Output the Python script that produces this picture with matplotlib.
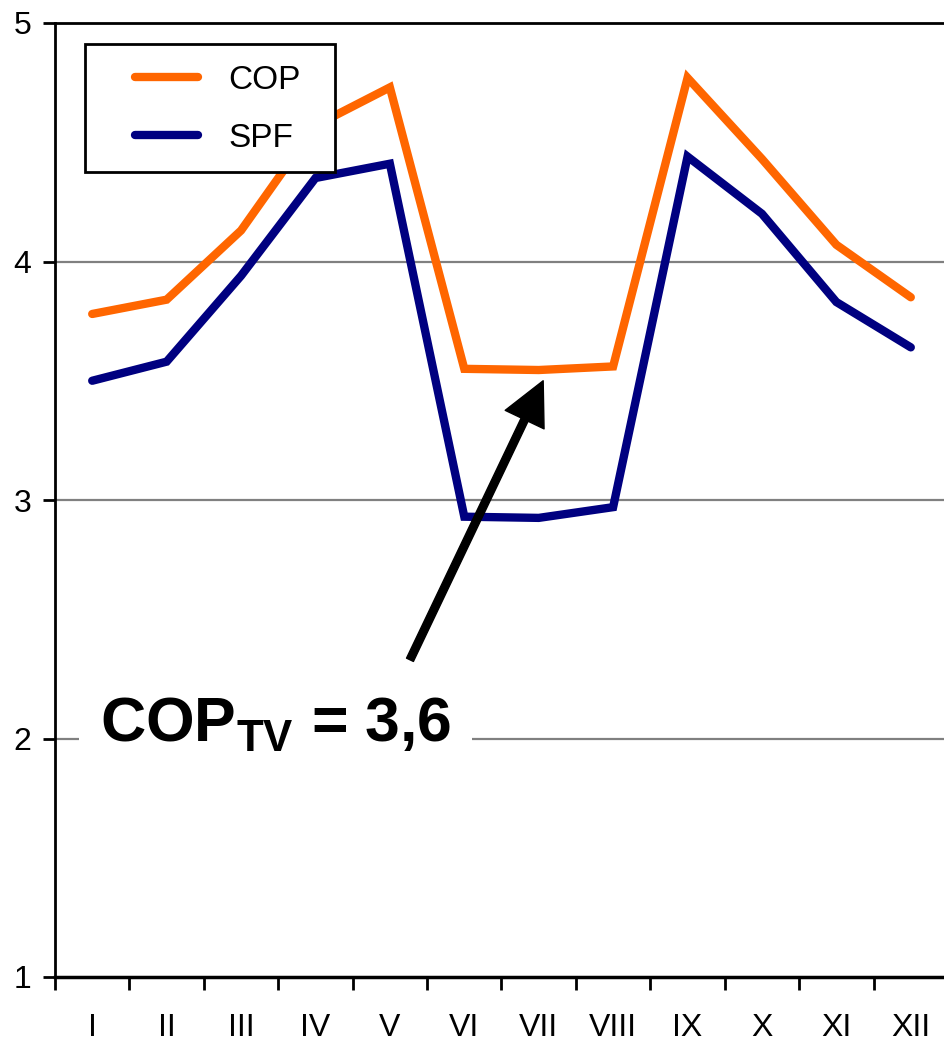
import matplotlib
matplotlib.use("Agg")
import matplotlib.pyplot as plt
from matplotlib.patches import Rectangle

# Datos mensuales
meses = ["I", "II", "III", "IV", "V", "VI", "VII", "VIII", "IX", "X", "XI", "XII"]
cop = [3.78, 3.84, 4.13, 4.57, 4.73, 3.55, 3.545, 3.56, 4.77, 4.43, 4.07, 3.85]
spf = [3.50, 3.58, 3.94, 4.35, 4.41, 2.93, 2.925, 2.97, 4.44, 4.20, 3.83, 3.64]
texto_cop = "3,6"

fuente = "Liberation Sans"
plt.rcParams["font.family"] = fuente
plt.rcParams["mathtext.fontset"] = "custom"
plt.rcParams["mathtext.rm"] = fuente + ":bold"
plt.rcParams["mathtext.bf"] = fuente + ":bold"

fig = plt.figure(figsize=(9.44, 10.45), dpi=100)
ax = fig.add_axes([55 / 944, 68 / 1045, 893 / 944, 954 / 1045])

x = list(range(len(meses)))
ax.plot(x, cop, color="#FF6600", lw=6, label="COP", solid_capstyle="round", solid_joinstyle="miter")
ax.plot(x, spf, color="#000080", lw=6, label="SPF", solid_capstyle="round", solid_joinstyle="miter")

ax.set_xlim(-0.5, len(meses) - 0.5)
ax.set_ylim(1, 5)

# Rejilla
for v in [2, 3, 4]:
    ax.axhline(v, color="#808080", lw=1.6, zorder=0)

# Ejes
for lado in ["left", "top"]:
    ax.spines[lado].set_linewidth(2)
ax.spines["bottom"].set_linewidth(2.5)
ax.spines["right"].set_visible(False)

ax.set_yticks([1, 2, 3, 4, 5])
ax.tick_params(axis="y", direction="out", length=9, width=2, pad=8, labelsize=23)
ax.set_xticks([i - 0.5 for i in range(len(meses) + 1)])
ax.set_xticklabels([])
ax.set_xticks(x, minor=True)
ax.set_xticklabels(meses, minor=True)
ax.tick_params(axis="x", which="major", direction="out", length=9, width=2)
ax.tick_params(axis="x", which="minor", length=0, pad=26, labelsize=23)

# Marco de la leyenda
marco = Rectangle((30 / 893, (977 - 172) / 954), 250 / 893, 128 / 954,
                  transform=ax.transAxes, facecolor="white", edgecolor="black",
                  lw=2, zorder=4)
ax.add_patch(marco)
leg = ax.legend(loc="upper left", bbox_to_anchor=(80 / 893, (977 - 65) / 954), fontsize=24,
                frameon=False, handlelength=1.9, handletextpad=0.9, labelspacing=0.8,
                borderpad=0, borderaxespad=0)
leg.set_zorder(5)

# Anotación
ax.annotate("", xy=(6.06, 3.50), xytext=(4.27, 2.33),
            arrowprops=dict(facecolor="black", edgecolor="black", width=5.5,
                            headwidth=31, headlength=31, shrink=0))
ax.text(0.104, 1.985, "COP$_{\\mathrm{TV}}$ = " + texto_cop, fontsize=45,
        fontweight="bold", va="baseline", ha="left",
        bbox=dict(facecolor="white", edgecolor="none", pad=15))

fig.savefig("out.png", dpi=100)
